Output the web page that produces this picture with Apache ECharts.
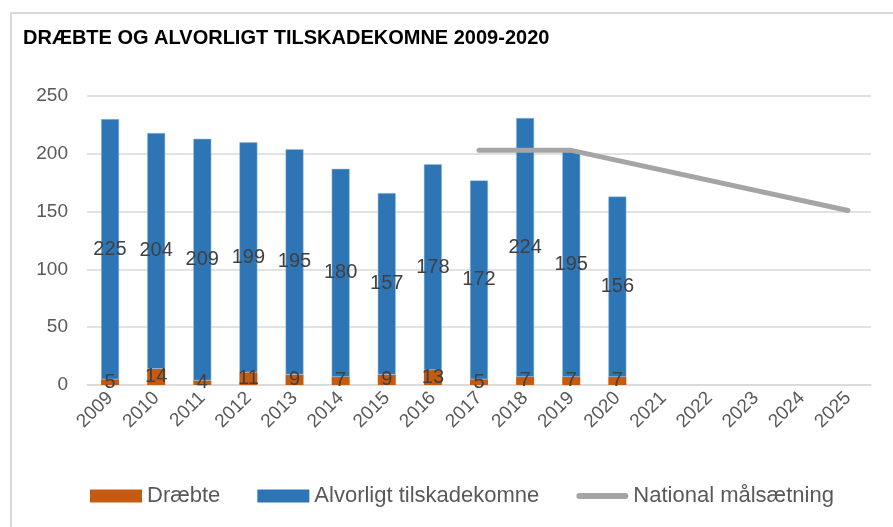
<!DOCTYPE html>
<html>
<head>
<meta charset="utf-8">
<script src="https://cdn.jsdelivr.net/npm/echarts@6/dist/echarts.min.js"></script>
<style>
  html, body { margin: 0; padding: 0; background: #fff; }
  #main { width: 893px; height: 527px; }
</style>
</head>
<body>
<div id="main"></div>
<script>
const years = ['2009', '2010', '2011', '2012', '2013', '2014', '2015', '2016', '2017',
  '2018', '2019', '2020', '2021', '2022', '2023', '2024', '2025']

// dræbte (nederst) og alvorligt tilskadekomne (ovenpå)
const draebte = [5, 14, 4, 11, 9, 7, 9, 13, 5, 7, 7, 7]
const alvorligt = [225, 204, 209, 199, 195, 180, 157, 178, 172, 224, 195, 156]

// national målsætning - kun de kendte knækpunkter, resten forbindes
const maal = [null, null, null, null, null, null, null, null, 203, 203, 203,
  null, null, null, null, null, 151]

const yTicks = [0, 50, 100, 150, 200, 250]

const txt = '#595959'
const font = '"Liberation Sans", Arial, sans-serif'

var chart = echarts.init(document.getElementById('main'))

var option = {
  animation: false,
  textStyle: { fontFamily: font },
  title: {
    text: 'DRÆBTE OG ALVORLIGT TILSKADEKOMNE 2009-2020',
    left: 18,
    top: 23,
    textStyle: {
      fontFamily: font,
      fontWeight: 'bold',
      fontSize: 20,
      color: '#000'
    }
  },
  graphic: [{
    type: 'rect',
    shape: { x: 11, y: 13, width: 900, height: 600 },
    style: { fill: 'none', stroke: '#d9d9d9', lineWidth: 2 },
    silent: true
  }],
  legend: {
    top: 480,
    left: 85,
    itemGap: 37,
    itemWidth: 52,
    itemHeight: 13,
    textStyle: { fontSize: 22, color: txt, fontFamily: font },
    data: [
      { name: 'Dræbte', icon: 'rect' },
      { name: 'Alvorligt tilskadekomne', icon: 'rect', itemStyle: { borderWidth: 0 } },
      { name: 'National målsætning', icon: 'path://M3,0 L49,0 A3,3 0 0 1 49,6 L3,6 A3,3 0 0 1 3,0 Z' }
    ]
  },
  grid: {
    left: 87,
    right: 22,
    top: 96,
    bottom: 142
  },
  xAxis: {
    type: 'category',
    data: years,
    axisLine: { lineStyle: { color: '#d9d9d9', width: 1.5 } },
    axisTick: { show: false },
    axisLabel: {
      rotate: 45,
      interval: 0,
      fontSize: 19,
      color: txt,
      margin: 10
    }
  },
  yAxis: {
    type: 'value',
    min: yTicks[0],
    max: yTicks[yTicks.length - 1],
    interval: 50,
    axisLine: { show: false },
    axisTick: { show: false },
    splitLine: { lineStyle: { color: '#d9d9d9', width: 1.5 } },
    axisLabel: { fontSize: 19, color: txt, margin: 19 }
  },
  series: [
    {
      name: 'Dræbte',
      type: 'bar',
      stack: 'ialt',
      barWidth: '39%',
      data: draebte,
      itemStyle: { color: '#c55a11' },
      label: { show: true, position: 'inside', fontSize: 20, color: '#404040' }
    },
    {
      name: 'Alvorligt tilskadekomne',
      type: 'bar',
      stack: 'ialt',
      data: alvorligt,
      itemStyle: { color: '#2e75b6', borderColor: '#9dc3e6', borderWidth: 0.5 },
      label: { show: true, position: 'inside', fontSize: 20, color: '#404040' }
    },
    {
      name: 'National målsætning',
      type: 'line',
      data: maal,
      connectNulls: true,
      symbol: 'none',
      lineStyle: { color: '#a5a5a5', width: 5, cap: 'round' },
      itemStyle: { color: '#a5a5a5' }
    }
  ]
}

chart.setOption(option)
</script>
</body>
</html>
